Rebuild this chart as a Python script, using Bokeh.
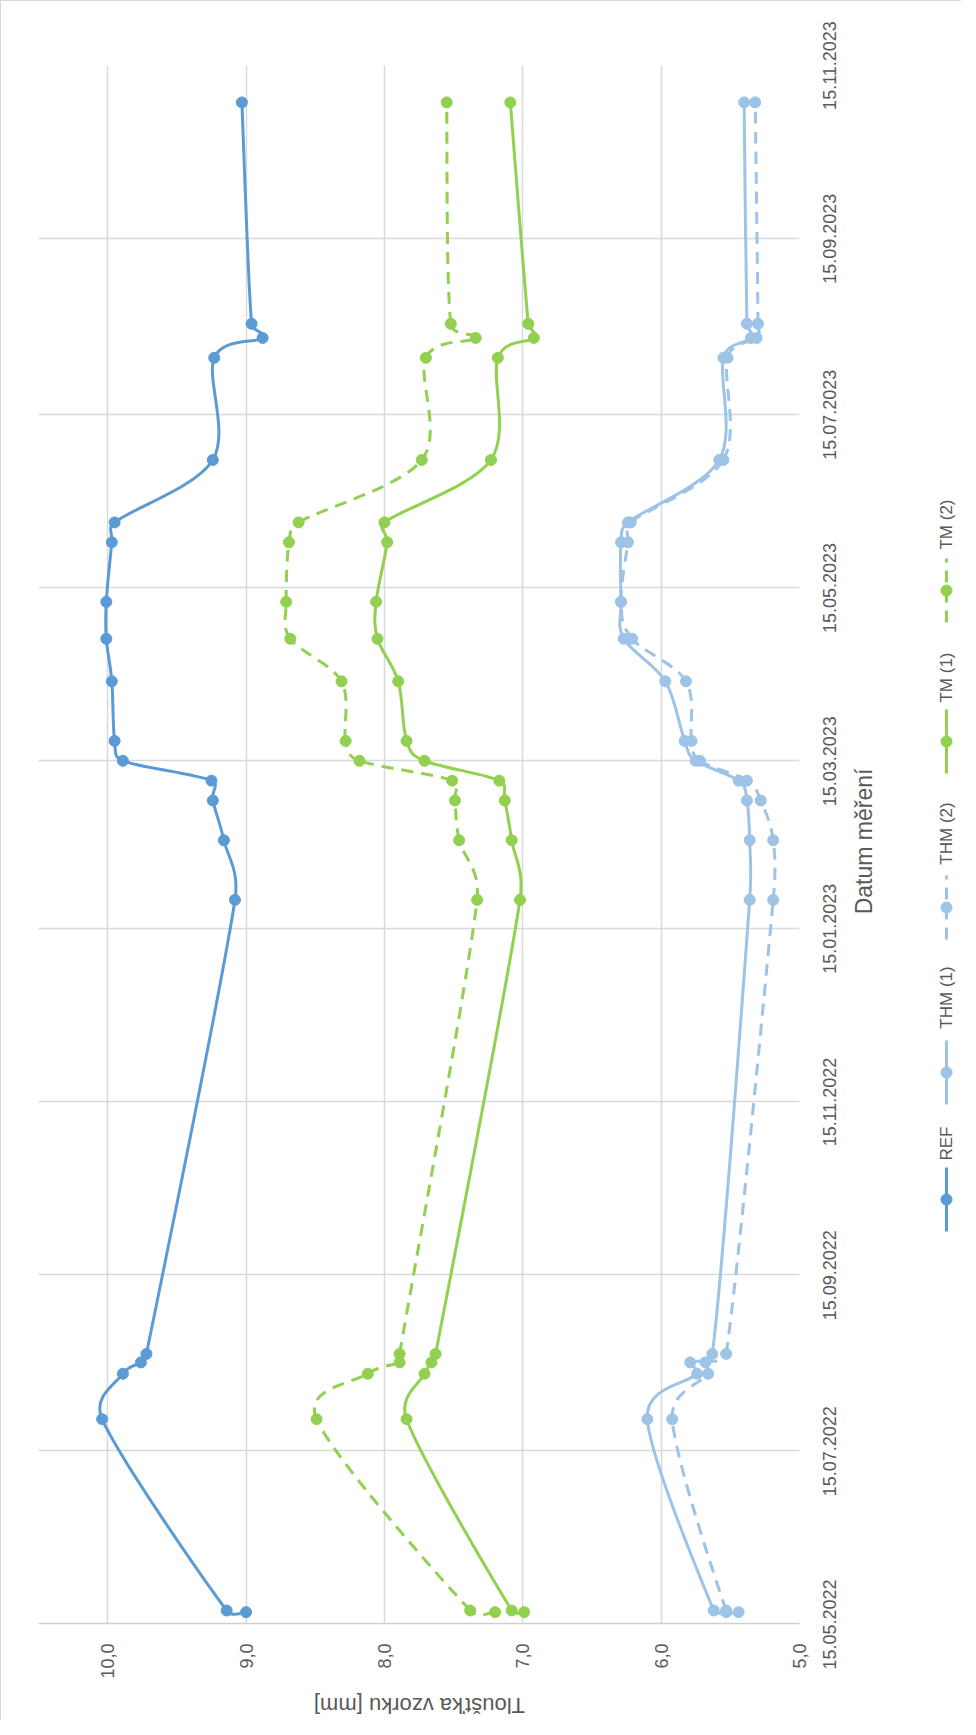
import math
import numpy as np
import pandas as pd
from bokeh.plotting import figure
from bokeh.layouts import row, column
from bokeh.models import Range1d, FixedTicker, CustomJSTickFormatter
from bokeh.embed import file_html
from bokeh.resources import INLINE
from bokeh.core.properties import value

# ---------------- data ----------------
dates = ["2022-05-19 00:00", "2022-05-19 14:00", "2022-07-26 00:00", "2022-08-11 00:00", "2022-08-15 00:00",
         "2022-08-18 00:00", "2023-01-25 00:00", "2023-02-15 00:00", "2023-03-01 00:00", "2023-03-08 00:00",
         "2023-03-15 00:00", "2023-03-22 00:00", "2023-04-12 00:00", "2023-04-27 00:00", "2023-05-10 00:00",
         "2023-05-31 00:00", "2023-06-07 00:00", "2023-06-29 00:00", "2023-08-04 00:00", "2023-08-11 00:00",
         "2023-08-16 00:00", "2023-11-02 00:00"]

ref  = [9.00, 9.14, 10.04, 9.89, 9.76, 9.72, 9.08, 9.16, 9.24, 9.25, 9.89, 9.95,
        9.97, 10.01, 10.01, 9.97, 9.95, 9.24, 9.23, 8.88, 8.96, 9.03]
thm1 = [5.53, 5.62, 6.10, 5.74, 5.79, 5.63, 5.36, 5.36, 5.38, 5.44, 5.75, 5.83,
        5.97, 6.27, 6.29, 6.29, 6.24, 5.58, 5.55, 5.35, 5.38, 5.40]
thm2 = [5.44, 5.53, 5.92, 5.66, 5.68, 5.53, 5.19, 5.19, 5.28, 5.38, 5.72, 5.78,
        5.82, 6.21, 6.29, 6.24, 6.22, 5.55, 5.52, 5.31, 5.30, 5.32]
tm1  = [6.99, 7.08, 7.84, 7.71, 7.66, 7.63, 7.02, 7.08, 7.13, 7.17, 7.71, 7.84,
        7.90, 8.05, 8.06, 7.98, 8.00, 7.23, 7.18, 6.92, 6.96, 7.09]
tm2  = [7.20, 7.38, 8.49, 8.12, 7.89, 7.89, 7.33, 7.46, 7.49, 7.51, 8.18, 8.28,
        8.31, 8.68, 8.71, 8.69, 8.62, 7.73, 7.70, 7.34, 7.52, 7.55]

series_names = ["REF", "THM (1)", "THM (2)", "TM (1)", "TM (2)"]
series_vals = [ref, thm1, thm2, tm1, tm2]
series_colors = ["#5B9BD5", "#9DC3E6", "#9DC3E6", "#92D050", "#92D050"]
series_dash = ["solid", "solid", "12 8", "solid", "12 8"]

date_ticks = ["2022-05-15", "2022-07-15", "2022-09-15", "2022-11-15", "2023-01-15",
              "2023-03-15", "2023-05-15", "2023-07-15", "2023-09-15", "2023-11-15"]
date_tick_labels = ["15.05.2022", "15.07.2022", "15.09.2022", "15.11.2022", "15.01.2023",
                    "15.03.2023", "15.05.2023", "15.07.2023", "15.09.2023", "15.11.2023"]
value_ticks = [5, 6, 7, 8, 9, 10]

x_title = "Datum měření"
y_title = "Tloušťka vzorku [mm]"

# ---------------- helpers ----------------
def to_ms(lst):
    return pd.to_datetime(lst, format="ISO8601").values.astype("datetime64[ms]").astype("int64").astype(float)

t_ms = to_ms(dates)
tick_ms = to_ms(date_ticks)
T0, T1 = tick_ms[0], tick_ms[-1]

TOP_H = 1680                  # main row: page y 8 .. 1688
B_TOP, B_BOT = 64, 57         # borders above / below the plot frame
FRAME_W = 761
FRAME_H = TOP_H - B_TOP - B_BOT
X0, X1 = 10.5, 5.0
SX = FRAME_W / abs(X0 - X1)          # px per mm
SY = FRAME_H / (T1 - T0)             # px per ms

def excel_bezier(xv, yv):
    """Excel-style smoothed line: cubic Bezier control points from neighbouring points."""
    xv = np.asarray(xv, float); yv = np.asarray(yv, float)
    n = len(xv)
    def d(i, j):
        return math.hypot((xv[i] - xv[j]) * SX, (yv[i] - yv[j]) * SY)
    out = {k: [] for k in ("x0", "y0", "x1", "y1", "cx0", "cy0", "cx1", "cy1")}
    for i in range(n - 1):
        i0 = i - 1 if i > 0 else i
        i3 = i + 2 if i + 2 < n else i + 1
        d12 = d(i, i + 1); d02 = d(i0, i + 1); d13 = d(i, i3)
        f0 = 1 / 6 if d02 == 0 else min(1 / 6, 0.5 * d12 / d02)
        f1 = 1 / 6 if d13 == 0 else min(1 / 6, 0.5 * d12 / d13)
        out["x0"].append(xv[i]); out["y0"].append(yv[i])
        out["x1"].append(xv[i + 1]); out["y1"].append(yv[i + 1])
        out["cx0"].append(xv[i] + f0 * (xv[i + 1] - xv[i0]))
        out["cy0"].append(yv[i] + f0 * (yv[i + 1] - yv[i0]))
        out["cx1"].append(xv[i + 1] - f1 * (xv[i3] - xv[i]))
        out["cy1"].append(yv[i + 1] - f1 * (yv[i3] - yv[i]))
    return out

FONT = "Liberation Sans"
TXT = "#595959"
GRID = "#D9D9D9"

def bare_figure(**kw):
    f = figure(output_backend="svg", toolbar_location=None, frame_align=False,
               x_axis_location=None, y_axis_location=None,
               min_border_left=0, min_border_right=0, min_border_top=0, min_border_bottom=0, **kw)
    f.grid.visible = False
    f.outline_line_color = None
    f.background_fill_color = "white"
    f.border_fill_color = "white"
    return f

# ---------------- main figure ----------------
B_RIGHT = 12
P_W = 37 + FRAME_W + B_RIGHT
p = figure(width=P_W, height=TOP_H, x_range=Range1d(X0, X1), y_range=Range1d(T0, T1),
           y_axis_type="datetime", y_axis_location=None, frame_align=False,
           output_backend="svg", toolbar_location=None,
           min_border_left=37, min_border_right=B_RIGHT, min_border_top=B_TOP, min_border_bottom=B_BOT)
p.outline_line_color = None
p.background_fill_color = "white"
p.border_fill_color = "white"

p.xaxis.ticker = FixedTicker(ticks=value_ticks)
p.xaxis.formatter = CustomJSTickFormatter(code="return tick.toFixed(1).replace('.', ',');")
ax = p.xaxis[0]
ax.major_label_orientation = math.pi / 2
ax.major_label_text_font = FONT
ax.major_label_text_font_size = "18px"
ax.major_label_text_color = TXT
ax.major_tick_line_color = None
ax.minor_tick_line_color = None
ax.major_tick_out = 0
ax.major_tick_in = 0
ax.axis_line_color = "#CFCFCF"
ax.axis_line_width = 1.5
ax.major_label_standoff = 20

p.xgrid.ticker = FixedTicker(ticks=value_ticks)
p.ygrid.ticker = FixedTicker(ticks=list(tick_ms))
p.xgrid.grid_line_color = GRID
p.ygrid.grid_line_color = GRID
p.xgrid.grid_line_width = 1.5
p.ygrid.grid_line_width = 1.5

for vals, col, dash in zip(series_vals, series_colors, series_dash):
    bz = excel_bezier(vals, t_ms)
    p.bezier(x0=bz["x0"], y0=bz["y0"], x1=bz["x1"], y1=bz["y1"],
             cx0=bz["cx0"], cy0=bz["cy0"], cx1=bz["cx1"], cy1=bz["cy1"],
             line_color=col, line_width=3, line_dash=dash)
    p.scatter(x=vals, y=list(t_ms), marker="circle", size=11,
              fill_color=col, line_color=col, line_width=1)

# ---------------- right panel: date labels, axis title, legend ----------------
Q_X0 = 8 + P_W
q = bare_figure(width=968 - Q_X0, height=TOP_H, x_range=Range1d(Q_X0, 968),
                y_range=Range1d(T0 - B_BOT / SY, T1 + B_TOP / SY))
q.extra_y_ranges = {"page": Range1d(8 + TOP_H, 8)}

# date tick labels (same date scale as the plot, read bottom-to-top)
q.text(x=[836] * len(tick_ms), y=list(tick_ms), text=date_tick_labels, angle=math.pi / 2,
       text_align="center", text_baseline="middle", text_font=value(FONT),
       text_font_size="18px", text_color=TXT)

q.text(x=[870], y=[848], y_range_name="page", text=[x_title], angle=math.pi / 2, text_align="center",
       text_baseline="middle", text_font=value(FONT), text_font_size="23px", text_color=TXT)

leg_x = 953
leg_marker_y = [1206, 1079, 914, 748, 597]
leg_text_y = [1150, 1004, 840, 684, 531]
for name, col, dash, my, ty in zip(series_names, series_colors, series_dash, leg_marker_y, leg_text_y):
    q.line(x=[leg_x, leg_x], y=[my + 32, my - 32], y_range_name="page",
           line_color=col, line_width=3, line_dash=dash)
    q.scatter(x=[leg_x], y=[my], y_range_name="page", marker="circle", size=11,
              fill_color=col, line_color=col)
    q.text(x=[leg_x], y=[ty], y_range_name="page", text=[name], angle=math.pi / 2, text_align="center",
           text_baseline="middle", text_font=value(FONT), text_font_size="17px", text_color=TXT)

# ---------------- bottom strip with the (upside-down) value-axis title ----------------
BOT_H = 1719 - TOP_H
r = bare_figure(width=960, height=BOT_H, x_range=Range1d(8, 968), y_range=Range1d(1727, 8 + TOP_H))
r.text(x=[426], y=[1712], text=[y_title], angle=math.pi, text_align="center",
       text_baseline="middle", text_font=value(FONT), text_font_size="22px", text_color=TXT)

layout = column(row(p, q), r,
                styles={"border-top": "1px solid #D9D9D9", "border-left": "1px solid #D9D9D9"})

open("out.html", "w").write(file_html(layout, INLINE))
